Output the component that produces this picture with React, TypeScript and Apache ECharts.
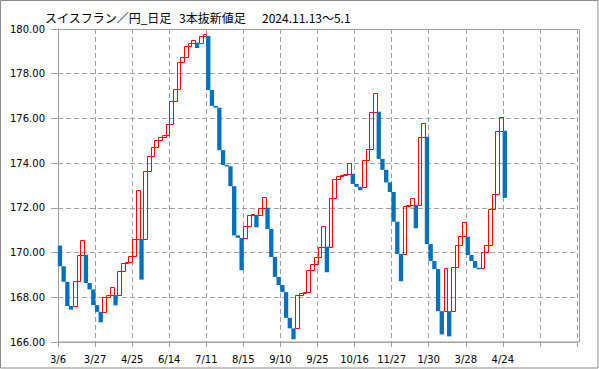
import React, { useEffect, useRef } from "react";
import * as echarts from "echarts";

// brick open / close (three-line break), one per slot
const opens = [
  170.31, 169.39, 168.69, 167.61, 167.61, 168.73, 169.9, 169.9, 168.64, 168.35,
  167.65, 167.35, 167.35, 168.01, 168.1, 168.1, 168.1, 169.18, 169.52, 169.58,
  169.85, 170.61, 170.61, 170.61, 173.63, 174.31, 174.73, 175.04, 175.18, 175.24,
  175.73, 176.76, 177.33, 178.54, 178.76, 179.24, 179.39, 179.39, 179.39, 179.69,
  179.69, 177.27, 176.56, 176.48, 174.58, 173.92, 173.86, 172.97, 170.77, 170.66,
  170.66, 171.19, 171.69, 171.69, 171.69, 172.01, 172.01, 171.05, 169.8, 168.91,
  168.55, 168.23, 167.08, 166.61, 166.61, 168.1, 168.19, 168.24, 169.22, 169.51,
  169.78, 170.27, 170.27, 170.27, 172.42, 173.31, 173.42, 173.46, 173.52, 173.52,
  173.07, 172.94, 172.94, 174.15, 174.64, 176.3, 176.3, 174.19, 173.7, 173.14,
  172.71, 171.38, 169.94, 169.94, 172.09, 172.13, 172.13, 172.13, 175.18, 175.18,
  170.38, 169.62, 169.26, 167.38, 167.38, 167.38, 167.38, 169.36, 170.34, 170.72,
  170.72, 169.89, 169.62, 169.32, 169.32, 170.03, 170.34, 171.96, 172.63, 175.45,
  175.45,
];
const closes = [
  169.39, 168.69, 167.61, 167.45, 168.73, 169.9, 170.55, 168.64, 168.35, 167.65,
  167.35, 166.88, 168.01, 168.1, 168.46, 167.64, 169.18, 169.52, 169.58, 169.85,
  170.61, 172.81, 168.79, 173.63, 174.31, 174.73, 175.04, 175.18, 175.24, 175.73,
  176.76, 177.33, 178.54, 178.76, 179.24, 179.39, 179.52, 179.15, 179.69, 179.78,
  177.27, 176.56, 176.48, 174.58, 173.92, 173.86, 172.97, 170.77, 170.66, 169.21,
  171.19, 171.69, 171.73, 171.13, 172.01, 172.49, 171.05, 169.8, 168.91, 168.55,
  168.23, 167.08, 166.61, 166.12, 168.1, 168.19, 168.24, 169.22, 169.51, 169.78,
  170.27, 171.19, 169.12, 172.42, 173.31, 173.42, 173.46, 173.52, 174.01, 173.07,
  172.94, 172.79, 174.15, 174.64, 176.3, 177.15, 174.19, 173.7, 173.14, 172.71,
  171.38, 169.94, 168.72, 172.09, 172.13, 172.45, 171.09, 175.18, 175.81, 170.38,
  169.62, 169.26, 167.38, 166.34, 169.3, 166.25, 169.36, 170.34, 170.72, 171.36,
  169.89, 169.62, 169.32, 169.29, 170.03, 170.34, 171.96, 172.63, 175.45, 176.06,
  172.45,
];

const tickLabels = [
  "3/6", "3/27", "4/25", "6/14", "7/11", "8/15", "9/10", "9/25", "10/16",
  "11/27", "1/30", "3/28", "4/24", "", "",
];

const titleParts = ["スイスフラン／円_日足", "3本抜新値足", "2024.11.13～5.1"];

const UP = "#ff0000";
const DOWN = "#0070c0";
const GRID = "#a0a0a0";
const AXIS_FONT = "DejaVu Sans";

export default function App() {
  const ref = useRef<HTMLDivElement>(null);
  useEffect(() => {
    document.body.style.margin = "0";
    const chart = echarts.init(ref.current!, null, { renderer: "svg" });
    const data = opens.map((o, i) => [i, o, closes[i]]);
    chart.setOption({
      animation: false,
      backgroundColor: "#ffffff",
      grid: { left: 58, right: 22, top: 29, bottom: 27 },
      xAxis: {
        type: "value",
        min: 0,
        max: 140,
        interval: 10,
        axisLine: { show: true, lineStyle: { color: GRID } },
        axisTick: { show: true, length: 5, lineStyle: { color: GRID } },
        axisLabel: {
          color: "#000",
          fontSize: 10,
          fontFamily: AXIS_FONT,
          margin: 12,
          formatter: (v: number) => tickLabels[Math.round(v / 10)] ?? "",
        },
        splitLine: { show: true, lineStyle: { color: GRID, type: [5, 3] } },
      },
      yAxis: {
        type: "value",
        min: 166,
        max: 180,
        interval: 2,
        axisLine: { show: true, lineStyle: { color: GRID } },
        axisTick: { show: true, length: 7, lineStyle: { color: GRID } },
        axisLabel: {
          color: "#000",
          fontSize: 10,
          fontFamily: AXIS_FONT,
          margin: 13,
          formatter: (v: number) => v.toFixed(2),
        },
        splitLine: { show: true, lineStyle: { color: GRID, type: [5, 3] } },
      },
      graphic: [
        {
          type: "rect",
          shape: { x: 0.5, y: 0.5, width: 597.5, height: 367.5 },
          style: { fill: "none", stroke: "#8a8a8a", lineWidth: 1 },
          silent: true,
          z: 100,
        },
        {
          type: "rect",
          shape: { x: 58.5, y: 29.5, width: 521, height: 312.5 },
          style: { fill: "none", stroke: GRID, lineWidth: 1 },
          silent: true,
          z: 1,
        },
        ...titleParts.map((t, k) => ({
          type: "text",
          x: [45, 179, 262][k],
          y: 17,
          style: {
            text: t,
            fill: "#000",
            fontSize: 12,
            fontFamily: '"Noto Sans CJK JP"',
            verticalAlign: "middle",
            align: "left",
          },
        })),
      ],
      series: [
        {
          type: "custom",
          data,
          encode: { x: 0, y: [1, 2] },
          clip: false,
          renderItem: (params: any, api: any) => {
            const i = api.value(0);
            const o = api.value(1);
            const c = api.value(2);
            const hi = Math.max(o, c);
            const lo = Math.min(o, c);
            const p0 = api.coord([i, hi]);
            const p1 = api.coord([i + 1, lo]);
            if (c > o) {
              const x0 = Math.round(p0[0]) + 0.5;
              const x1 = Math.round(p1[0]) + 0.5;
              const y0 = Math.round(p0[1]) + 0.5;
              const y1 = Math.round(p1[1]) + 0.5;
              return {
                type: "rect",
                shape: { x: x0, y: y0, width: x1 - x0, height: Math.max(1, y1 - y0) },
                style: { fill: "none", stroke: UP, lineWidth: 1 },
              };
            }
            return {
              type: "rect",
              shape: {
                x: p0[0] - 0.2,
                y: p0[1],
                width: p1[0] - p0[0] + 0.6,
                height: Math.max(1.5, p1[1] - p0[1]),
              },
              style: { fill: DOWN, stroke: "none" },
            };
          },
        },
      ],
    });
    return () => chart.dispose();
  }, []);
  return <div ref={ref} style={{ width: 599, height: 369 }} />;
}
